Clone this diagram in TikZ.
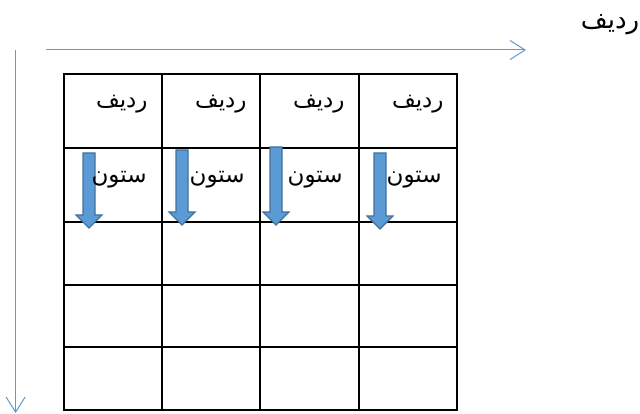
\documentclass[tikz,border=0pt]{standalone}
\usepackage{fontspec}
\newfontfamily\arabicfont[Script=Arabic]{DejaVu Sans}
\TeXXeTstate=1
\usetikzlibrary{arrows.meta}
\definecolor{guideblue}{HTML}{5B9BD5}
\definecolor{blockedge}{HTML}{41719C}

\begin{document}
\begin{tikzpicture}[x=1pt, y=-1pt, thick,
    cellword/.style={font=\arabicfont\fontsize{23}{26}\selectfont, inner sep=0pt, anchor=east},
    guide/.style={draw=guideblue, line width=1pt, -{Straight Barb[length=15pt, width=19pt, line width=1pt]}},
    gridline/.style={line width=2pt, black},
    blockarrow/.style={fill=guideblue, draw=blockedge, line width=1.2pt}]
    \useasboundingbox (0,0) rectangle (640,414);
    \draw[gridline] (64,74) rectangle (457,410);
    \foreach \x in {162,260,359}
        \draw[gridline] (\x,74) -- (\x,410);
    \foreach \y in {148,222,285,347}
        \draw[gridline] (64,\y) -- (457,\y);
    \coordinate (hstart) at (46,50);
    \coordinate (hend) at (526,50);
    \coordinate (vstart) at (15.6,50);
    \coordinate (vend) at (15.6,413);
    \draw[guide] (hstart) -- (hend);
    \draw[guide] (vstart) -- (vend);
    \foreach \x/\t/\b in {89/153/228, 182/150/225, 276/147/225, 380/153/229}
        \draw[blockarrow] (\x-6,\t) -- (\x+6,\t) -- (\x+6,\b-13) -- (\x+13,\b-13)
            -- (\x,\b) -- (\x-13,\b-13) -- (\x-6,\b-13) -- cycle;
    \foreach \x [count=\i] in {148,247,345,444}
        \node[cellword] (row\i) at (\x,104) {\beginR ردیف\endR};
    \foreach \x [count=\i] in {147,245,343,442}
        \node[cellword] (col\i) at (\x,180) {\beginR ستون\endR};
    \node[cellword, anchor=center, font=\arabicfont\fontsize{26}{30}\selectfont] (rowtitle) at (610,25) {\beginR ردیف\endR};
\end{tikzpicture}
\end{document}
